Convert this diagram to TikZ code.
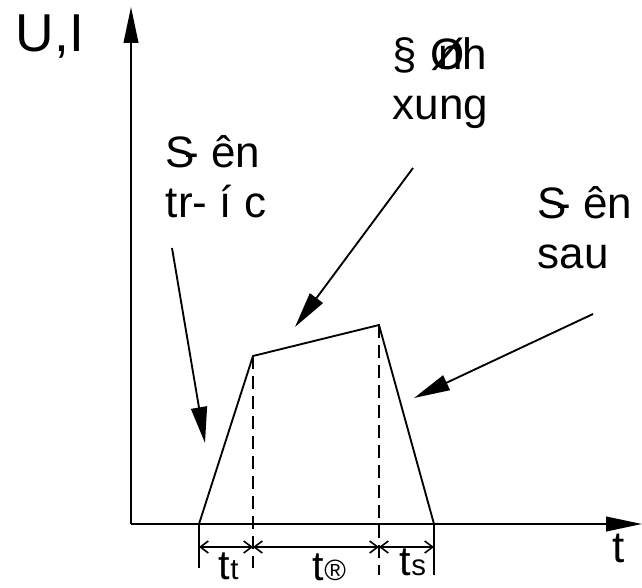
\documentclass[tikz,border=0pt]{standalone}
\usepackage{fontspec}
\setmainfont{Liberation Sans}
\usetikzlibrary{arrows.meta}

\newcommand{\subsz}{\fontsize{22}{22}\selectfont}

\begin{document}
\begin{tikzpicture}[x=0.75pt,y=-0.75pt,
    line width=1.4pt,
    axis/.style={-{Triangle[length=27pt,width=11pt]}},
    pointer/.style={-{Triangle[length=27pt,width=12pt]}},
    dimline/.style={line width=1.2pt,{Straight Barb[length=6pt,width=9pt]}-{Straight Barb[length=6pt,width=9pt]}},
    guide/.style={line width=1.2pt,dash pattern=on 10pt off 5pt},
    lbl/.style={font=\fontsize{33}{37.5}\selectfont,align=left,inner sep=0pt,anchor=base west},
    tlbl/.style={font=\fontsize{31}{31}\selectfont,inner sep=0pt,anchor=base west}]

  \useasboundingbox (0,0) rectangle (642,588);

  % Axes
  \coordinate (O) at (131,524);
  \coordinate (ytop) at (131,7);
  \coordinate (xend) at (642,524);
  \draw[axis] (O) -- (ytop);
  \draw[axis] (O) -- (xend);
  \node[lbl,font=\fontsize{40}{40}\selectfont] (UI) at (15,52) {U,I};
  \node[tlbl,font=\fontsize{33}{33}\selectfont] (t) at (612,562) {t};

  % Pulse
  \coordinate (p0) at (199,524);
  \coordinate (p1) at (253,356);
  \coordinate (p2) at (379,325);
  \coordinate (p3) at (434,524);
  \draw (p0) -- (p1) -- (p2) -- (p3);

  % Extension lines
  \coordinate (e0) at (199,568);
  \coordinate (e1) at (253,568);
  \coordinate (e2) at (379,575);
  \coordinate (e3) at (434,575);
  \draw[line width=1.2pt] (p0) -- (e0);
  \draw[guide] (p1) -- (e1);
  \draw[guide] (p2) -- (e2);
  \draw[line width=1.2pt] (p3) -- (e3);

  % Dimension arrows
  \coordinate (d0) at (199,547);
  \coordinate (d1) at (253,547);
  \coordinate (d2) at (379,547);
  \coordinate (d3) at (434,547);
  \draw[dimline] (d0) -- (d1);
  \draw[dimline] (d1) -- (d2);
  \draw[dimline] (d2) -- (d3);
  \node[tlbl] (tt) at (218,579) {t{\subsz t}};
  \node[tlbl] (tdinh) at (312,580) {t{\subsz ®}};
  \node[tlbl] (ts) at (399,575) {t{\subsz s}};

  % Labels (anchored at the baseline of the last line)
  \node[lbl] (front) at (165,217) {S\kern-.25em- ên\\tr- í c};
  \node[lbl] (peak) at (392,120) {§\kern.3em Ø\kern-.6em nh\\xung};
  \node[lbl] (back) at (537,268) {S\kern-.25em- ên\\sau};

  % Pointers
  \coordinate (a1) at (172,248);
  \coordinate (b1) at (205,443);
  \coordinate (a2) at (413,168);
  \coordinate (b2) at (295,327);
  \coordinate (a3) at (593,314);
  \coordinate (b3) at (414,398);
  \draw[pointer] (a1) -- (b1);
  \draw[pointer] (a2) -- (b2);
  \draw[pointer] (a3) -- (b3);

\end{tikzpicture}
\end{document}
